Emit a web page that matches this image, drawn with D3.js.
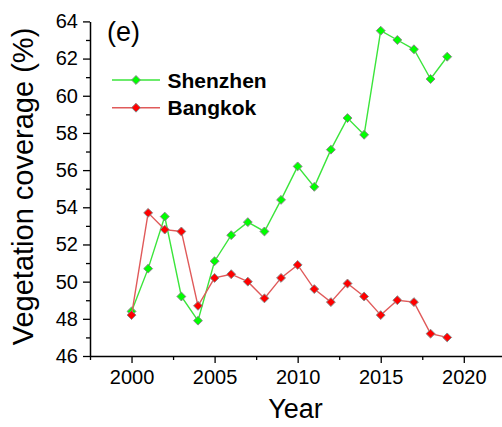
<!DOCTYPE html>
<html>
<head>
<meta charset="utf-8">
<script src="https://cdn.jsdelivr.net/npm/d3@7"></script>
<style>
  html, body { margin: 0; padding: 0; background: #fff; }
  svg { display: block; font-family: "Liberation Sans", Arial, sans-serif; }
</style>
</head>
<body>
<svg id="chart" width="502" height="427"></svg>
<script>
// Annual vegetation coverage (%)
const years = [2000, 2001, 2002, 2003, 2004, 2005, 2006, 2007, 2008, 2009,
               2010, 2011, 2012, 2013, 2014, 2015, 2016, 2017, 2018, 2019];
const shenzhen = [48.4, 50.7, 53.5, 49.2, 47.9, 51.1, 52.5, 53.2, 52.7, 54.4,
                  56.2, 55.1, 57.1, 58.8, 57.9, 63.5, 63.0, 62.5, 60.9, 62.1];
const bangkok = [48.2, 53.7, 52.8, 52.7, 48.7, 50.2, 50.4, 50.0, 49.1, 50.2,
                 50.9, 49.6, 48.9, 49.9, 49.2, 48.2, 49.0, 48.9, 47.2, 47.0];
const xTicks = [2000, 2005, 2010, 2015, 2020];
const yTicks = [46, 48, 50, 52, 54, 56, 58, 60, 62, 64];
const seriesNames = ["Shenzhen", "Bangkok"];

const svg = d3.select("#chart");
const plotLeft = 90, plotRight = 502, plotTop = 21.4, plotBottom = 356;

const x = d3.scaleLinear().domain([1997.5, 2022.3]).range([plotLeft, plotRight]);
const y = d3.scaleLinear().domain([46, 64]).range([plotBottom, plotTop]);

// Axes (left and bottom only), with minor ticks between the labelled ones
const xAxis = svg.append("g").attr("transform", `translate(0,${plotBottom})`)
  .call(d3.axisBottom(x).tickValues(xTicks).tickFormat(d3.format("d"))
    .tickSize(7).tickSizeOuter(0).tickPadding(7));
const xMinor = svg.append("g").attr("transform", `translate(0,${plotBottom})`)
  .call(d3.axisBottom(x).tickValues(xTicks.map(v => v - 2.5))
    .tickFormat("").tickSize(4).tickSizeOuter(0));
xMinor.select(".domain").remove();

const yAxis = svg.append("g").attr("transform", `translate(${plotLeft},0)`)
  .call(d3.axisLeft(y).tickValues(yTicks).tickFormat(d3.format("d"))
    .tickSize(7).tickSizeOuter(0).tickPadding(5));
const yMinor = svg.append("g").attr("transform", `translate(${plotLeft},0)`)
  .call(d3.axisLeft(y).tickValues(yTicks.slice(0, -1).map(v => v + 1))
    .tickFormat("").tickSize(4).tickSizeOuter(0));
yMinor.select(".domain").remove();

svg.selectAll(".domain").attr("stroke", "#000").attr("stroke-width", 1.5);
svg.selectAll(".tick line").attr("stroke", "#000").attr("stroke-width", 1.3);
xAxis.selectAll("text").attr("font-size", 20).attr("fill", "#000");
yAxis.selectAll("text").attr("font-size", 20).attr("fill", "#000");

// Axis titles
svg.append("text").attr("x", 295.5).attr("y", 418).attr("text-anchor", "middle")
  .attr("font-size", 27).text("Year");
svg.append("text").attr("transform", `translate(33,186.5) rotate(-90)`)
  .attr("text-anchor", "middle").attr("font-size", 29).text("Vegetation coverage (%)");

// Panel label
svg.append("text").attr("x", 107).attr("y", 41).attr("font-size", 27).text("(e)");

const series = [
  { name: seriesNames[0], values: shenzhen, line: "#3be53b", fill: "#00ff00" },
  { name: seriesNames[1], values: bangkok, line: "#e05a5a", fill: "#ff0000" }
];

const line = d3.line().x((d, i) => x(years[i])).y(d => y(d));
const diamond = d3.symbol().type(d3.symbolDiamond2).size(50);

series.forEach(s => {
  svg.append("path").datum(s.values).attr("d", line)
    .attr("fill", "none").attr("stroke", s.line).attr("stroke-width", 1.4);
  svg.append("g").selectAll("path").data(s.values).join("path")
    .attr("transform", (d, i) => `translate(${x(years[i])},${y(d)})`)
    .attr("d", diamond).attr("fill", s.fill)
    .attr("stroke", "#888").attr("stroke-width", 1);
});

// Legend
const legend = svg.append("g");
series.forEach((s, i) => {
  const ly = 80 + i * 27.7;
  legend.append("line").attr("x1", 112).attr("x2", 160).attr("y1", ly).attr("y2", ly)
    .attr("stroke", s.line).attr("stroke-width", 1.4);
  legend.append("path").attr("transform", `translate(136,${ly})`).attr("d", diamond)
    .attr("fill", s.fill).attr("stroke", "#888").attr("stroke-width", 1);
  legend.append("text").attr("x", 167.5).attr("y", ly + 7.5).attr("font-size", 21)
    .attr("font-weight", "bold").text(s.name);
});
</script>
</body>
</html>
